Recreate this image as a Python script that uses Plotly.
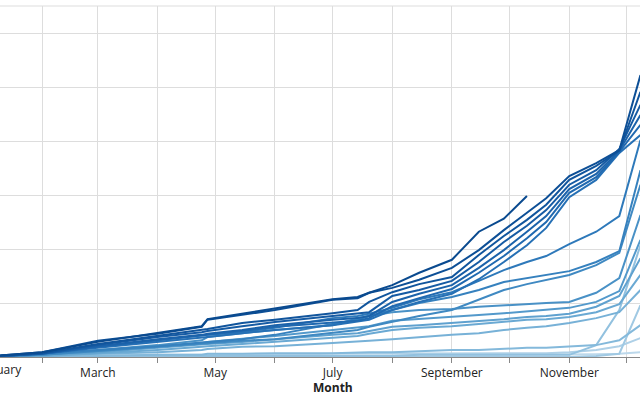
import plotly.graph_objects as go

# ---- data ----
dates = ["2020-01-01", "2020-02-01", "2020-03-01", "2020-04-01", "2020-04-24",
         "2020-04-27", "2020-05-15", "2020-06-01", "2020-07-01", "2020-07-14",
         "2020-07-20", "2020-08-01", "2020-08-15", "2020-09-01", "2020-09-15",
         "2020-09-28", "2020-10-10", "2020-10-20", "2020-11-01", "2020-11-15",
         "2020-11-27", "2020-12-08"]

s01 = [0, 9, 28, 44, 57, 70, 80, 89, 107, 111, 119, 133, 156, 180, 232, 256, 298,
       None, None, None, None, None]
s02 = [0, 9, 30, 43, 56, 69, 78, 87, 106, 109, 119, 128, 143, 165, 198, 235, 267, 294, 335, 359, 383, 522]
s03 = [0, 7, 24, 39, 50, 52, 63, 69, 81, 87, 102, 120, 135, 148, 189, 224, 254, 282, 328, 354, 382, 491]
s04 = [0, 7, 22, 37, 46, 48, 57, 65, 76, 80, 83, 113, 124, 141, 176, 213, 243, 272, 319, 346, 385, 467]
s05 = [0, 6, 20, 33, 41, 43, 50, 59, 69, 72, 76, 102, 117, 133, 165, 198, 232, 261, 311, 339, 382, 448]
s06 = [0, 6, 19, 31, 39, 41, 48, 56, 63, 67, 72, 94, 109, 126, 156, 187, 220, 250, 304, 333, 380, 430]
s07 = [0, 6, 17, 28, 35, 37, 44, 50, 59, 65, 69, 87, 102, 117, 144, 176, 207, 239, 296, 328, 378, 411]
s08 = [0, 7, 19, 31, 39, 41, 46, 54, 72, 76, 80, 91, 107, 120, 141, 161, 176, 187, 209, 232, 261, 402]
s09 = [0, 6, 13, 20, 26, 28, 33, 41, 61, 69, 76, 87, 100, 111, 124, 139, 146, 152, 159, 176, 196, 346]
s10 = [0, 4, 11, 19, 24, 26, 30, 33, 44, 50, 56, 65, 76, 87, 106, 124, 135, 143, 152, 170, 193, 319]
s11 = [0, 4, 13, 22, 31, 37, 44, 50, 59, 72, 76, 83, 87, 89, 93, 96, 98, 100, 102, 119, 146, 263]
s12 = [0, 4, 11, 19, 26, 28, 33, 39, 50, 54, 57, 67, 70, 74, 78, 81, 85, 87, 91, 102, 122, 217]
s13 = [0, 4, 9, 17, 22, 24, 28, 33, 41, 44, 48, 56, 59, 63, 67, 70, 74, 76, 80, 93, 113, 183]
s14 = [0, 2, 7, 13, 19, 20, 24, 28, 35, 39, 43, 50, 54, 57, 61, 65, 69, 70, 74, 83, 98, 152]
s15 = [0, 2, 6, 9, 13, 15, 19, 20, 26, 28, 30, 33, 37, 41, 44, 50, 54, 57, 63, 72, 83, 124]
s16 = [0, 0, 2, 4, 4, 6, 6, 7, 7, 9, 9, 9, 11, 13, 13, 15, 17, 17, 19, 22, 31, 59]
s17 = [0, 0, 2, 2, 2, 2, 2, 2, 2, 2, 2, 2, 4, 4, 4, 4, 4, 4, 4, 22, 87, 207]
s18 = [0, 0, 0, 0, 0, 0, 0, 0, 0, 0, 0, 0, 0, 0, 0, 0, 0, 0, 0, 2, 6, 96]
s19 = [0, 2, 4, 4, 4, 4, 4, 4, 6, 6, 6, 6, 6, 6, 7, 7, 7, 7, 9, 13, 20, 35]
s20 = [0, 0, 1, 1, 1, 1, 2, 2, 2, 2, 2, 2, 3, 3, 3, 4, 4, 4, 4, 5, 6, 9]

month_ticks = ["2020-02-01", "2020-03-01", "2020-04-01", "2020-05-01", "2020-06-01",
               "2020-07-01", "2020-08-01", "2020-09-01", "2020-10-01", "2020-11-01",
               "2020-12-01"]
month_labels = ["", "March", "", "May", "", "July", "", "September", "", "November", ""]

# ---- figure ----
series = [s20, s19, s18, s17, s16, s15, s14, s13, s12, s11,
          s10, s09, s08, s07, s06, s05, s04, s03, s02, s01]
colors = ["#bcd8eb", "#aed0e7", "#a0c9e3", "#92c1df", "#84b9db", "#77b1d7",
          "#6aa9d3", "#5fa1cf", "#5399cb", "#4991c6", "#3f89c2", "#3681be",
          "#2e79ba", "#2670b5", "#2069b0", "#1b62aa", "#165ba4", "#11559d",
          "#0d4f96", "#0a4a8f"]

fig = go.Figure()
for vals, col in zip(series, colors):
    fig.add_trace(go.Scatter(x=dates, y=vals, mode="lines",
                             line=dict(color=col, width=2),
                             showlegend=False, hoverinfo="skip"))

fig.update_layout(
    width=640, height=400,
    margin=dict(l=0, r=0, t=6, b=43),
    paper_bgcolor="white", plot_bgcolor="white",
    font=dict(family="Open Sans", size=12, color="#222"),
    xaxis=dict(range=["2020-01-10 03:36", "2020-12-07 18:14"],
               tickmode="array", tickvals=month_ticks, ticktext=month_labels,
               ticks="outside", ticklen=5, tickcolor="#888",
               showline=True, linecolor="#888", linewidth=1,
               showgrid=True, gridcolor="#dddddd", gridwidth=1,
               zeroline=False, tickfont=dict(size=12, color="#222")),
    yaxis=dict(range=[0, 650], dtick=100, showticklabels=False,
               showgrid=True, gridcolor="#dddddd", gridwidth=1,
               zeroline=False, showline=False),
    shapes=[dict(type="line", xref="paper", yref="paper", x0=0, x1=1, y0=1, y1=1,
                 line=dict(color="#dddddd", width=1))],
    annotations=[
        dict(text="January", xref="paper", yref="paper", x=-0.037, y=-0.035,
             xanchor="left", yanchor="middle", showarrow=False,
             font=dict(size=12, color="#222")),
        dict(text="<b>Month</b>", xref="paper", yref="paper", x=0.52, y=-0.0855,
             xanchor="center", yanchor="middle", showarrow=False,
             font=dict(size=12, color="#222")),
    ],
)

fig.write_html("out.html", config={"displayModeBar": False},
               post_script="document.body.style.margin='0';document.body.style.overflow='hidden';")
